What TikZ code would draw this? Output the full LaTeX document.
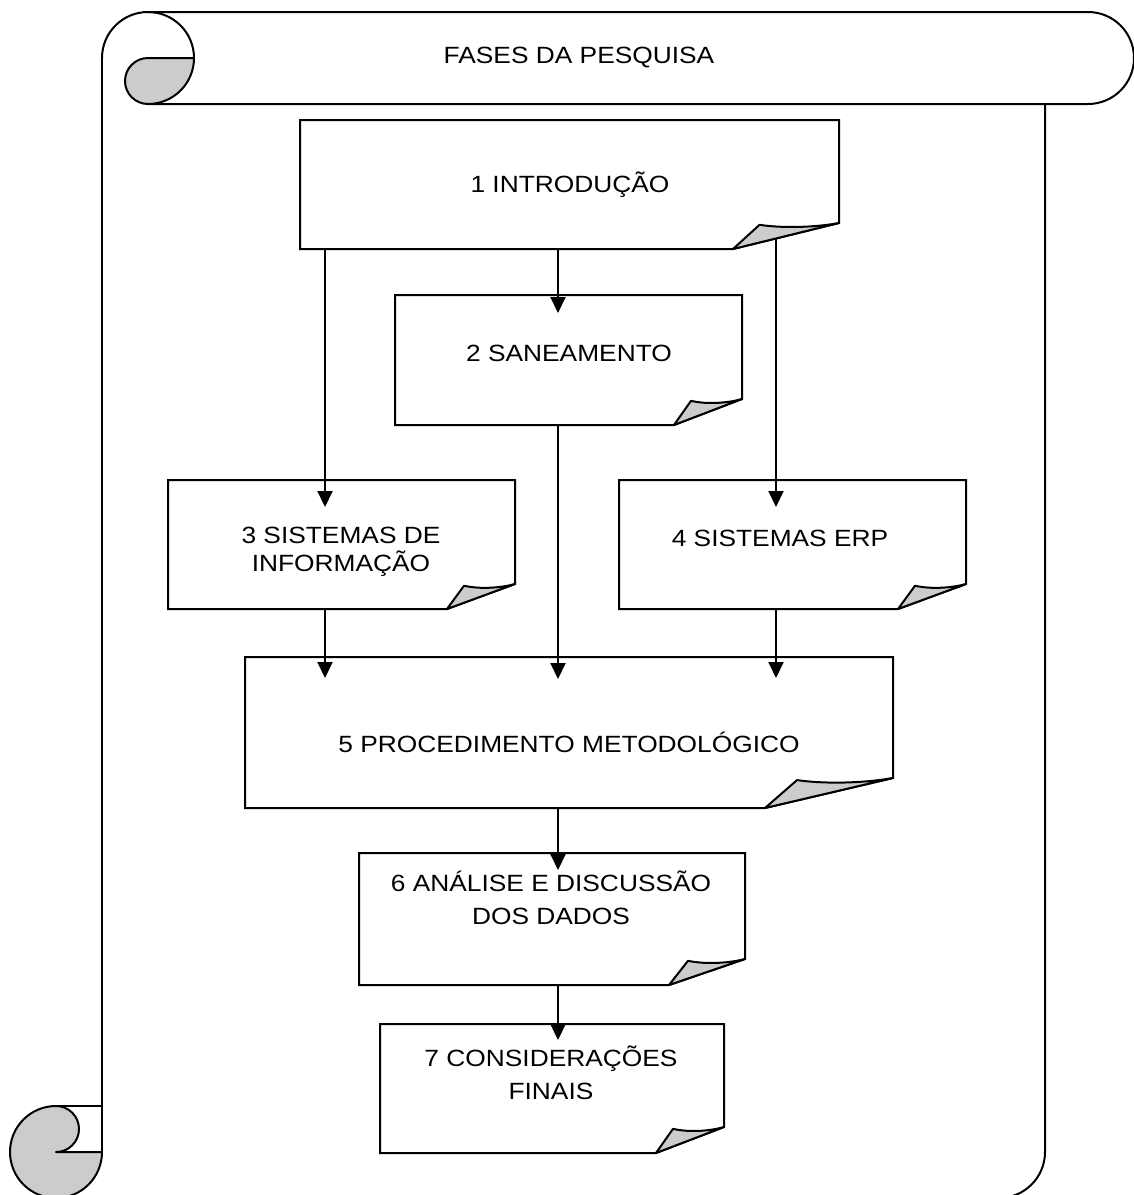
\documentclass[tikz,border=0pt]{standalone}
\usepackage{fontspec}
\setmainfont[FakeStretch=1.12]{Liberation Sans}
\usetikzlibrary{arrows.meta,calc}

\definecolor{foldgrey}{RGB}{204,204,204}

\tikzset{
  outline/.style={line width=2pt, line join=round},
  docbox/.style={draw=none, inner sep=0pt, outer sep=0pt, anchor=north west, rectangle},
  boxline/.style={draw, line width=2pt, line join=miter, fill=white},
  foldpart/.style={draw, line width=2pt, line join=round, fill=foldgrey},
  label/.style={font=\fontsize{23.5}{28}\selectfont, align=center, inner sep=0pt},
  widelabel/.style={font=\fontsize{23.5}{33}\selectfont, align=center, inner sep=0pt},
  flow/.style={line width=2pt, -{Triangle[length=16pt,width=15pt]}},
}

% box with a turned-up lower right corner: #1 node, #2 fold width, #3 fold height
\newcommand\foldedbox[3]{%
  \draw[boxline] (#1.north west) -- (#1.north east) -- ([yshift=#3]#1.south east)
    -- ([xshift=-#2]#1.south east) -- (#1.south west) -- cycle;
  \draw[foldpart] ([xshift=-#2]#1.south east)
    -- ([xshift=-0.75*#2, yshift=0.93*#3]#1.south east)
    .. controls ([xshift=-0.5*#2, yshift=0.78*#3]#1.south east)
    and ([xshift=-0.2*#2, yshift=0.85*#3]#1.south east)
    .. ([yshift=#3]#1.south east) -- cycle;
}

\begin{document}
\begin{tikzpicture}[x=1pt,y=1pt]
\useasboundingbox (0,0) rectangle (1134,-1195);
\clip (0,0) rectangle (1134,-1195);
\fill[white] (0,0) rectangle (1134,-1195);

% ---- scroll ----
% top band
\draw[outline] (148,-12) -- (1088,-12) arc[start angle=90, end angle=-90, radius=46]
  -- (148,-104);
\draw[outline] (102,-58) arc[start angle=180, end angle=0, radius=46];
\draw[foldpart] (148,-58) -- (194,-58) arc[start angle=0, end angle=-90, radius=46]
  arc[start angle=-90, end angle=-270, radius=23] -- cycle;
% page sides and bottom
\draw[outline] (102,-58) -- (102,-1152);
\draw[outline] (1045,-104) -- (1045,-1152) arc[start angle=0, end angle=-90, radius=46]
  -- (56,-1198);
% bottom roll
\draw[foldpart] (56,-1106) arc[start angle=90, end angle=360, radius=46]
  -- (56,-1152) arc[start angle=-90, end angle=90, radius=23] -- cycle;
\draw[outline] (56,-1106) -- (102,-1106);

\node[label] (title) at (579,-58) {FASES DA PESQUISA};

% ---- boxes ----
\node[docbox, minimum width=539pt, minimum height=129pt] (b1) at (300,-120) {};
\node[docbox, minimum width=347pt, minimum height=130pt] (b2) at (395,-295) {};
\node[docbox, minimum width=347pt, minimum height=129pt] (b3) at (168,-480) {};
\node[docbox, minimum width=347pt, minimum height=129pt] (b4) at (619,-480) {};
\node[docbox, minimum width=648pt, minimum height=151pt] (b5) at (245,-657) {};
\node[docbox, minimum width=386pt, minimum height=132pt] (b6) at (359,-853) {};
\node[docbox, minimum width=344pt, minimum height=129pt] (b7) at (380,-1024) {};

\foldedbox{b1}{106pt}{26pt}
\foldedbox{b2}{68pt}{26pt}
\foldedbox{b3}{68pt}{25pt}
\foldedbox{b4}{68pt}{25pt}
\foldedbox{b5}{128pt}{30pt}
\foldedbox{b6}{76pt}{26pt}
\foldedbox{b7}{68pt}{26pt}

\node[label] (t1) at (570,-185) {1 INTRODUÇÃO};
\node[label] (t2) at (569,-353) {2 SANEAMENTO};
\node[label] (t3) at (341,-552) {3 SISTEMAS DE\\INFORMAÇÃO};
\node[label] (t4) at (780,-538) {4 SISTEMAS ERP};
\node[label] (t5) at (569,-742) {5 PROCEDIMENTO METODOLÓGICO};
\node[widelabel] (t6) at (551,-898) {6 ANÁLISE E DISCUSSÃO\\DOS DADOS};
\node[widelabel] (t7) at (551,-1073) {7 CONSIDERAÇÕES\\FINAIS};

% ---- connectors ----
\coordinate (xl) at (325,0);
\coordinate (xm) at (558,0);
\coordinate (xr) at (776,0);

\draw[flow] (b1.south -| xl) -- ($(b3.north -| xl)+(0,-27)$);
\draw[flow] (b1.south -| xm) -- ($(b2.north -| xm)+(0,-18)$);
\draw[flow] ($(b1.south -| xr)+(0,10.5)$) -- ($(b4.north -| xr)+(0,-27)$);
\draw[flow] (b2.south -| xm) -- ($(b5.north -| xm)+(0,-22)$);
\draw[flow] (b3.south -| xl) -- ($(b5.north -| xl)+(0,-21)$);
\draw[flow] (b4.south -| xr) -- ($(b5.north -| xr)+(0,-21)$);
\draw[flow] (b5.south -| xm) -- ($(b6.north -| xm)+(0,-17)$);
\draw[flow] (b6.south -| xm) -- ($(b7.north -| xm)+(0,-16)$);
\end{tikzpicture}
\end{document}
